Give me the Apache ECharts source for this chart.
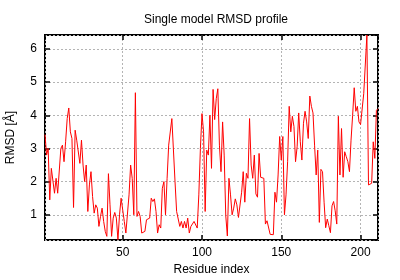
<!DOCTYPE html>
<html><head><meta charset="utf-8">
<script src="https://cdn.jsdelivr.net/npm/echarts@6/dist/echarts.min.js"></script>
<style>html,body{margin:0;padding:0;background:#fff}#c{width:400px;height:280px}</style>
</head><body><div id="c"></div>
<script>
const title = "Single model RMSD profile";
const xName = "Residue index";
const yName = "RMSD [Å]";
const xMin = 1, xMax = 211;
const yMin = 0.24, yMax = 6.42;
const rmsd = [
3.42,2.8,3.0,1.45,2.4,2.35,1.65,2.1,1.65,1.7,
3.0,3.1,2.6,3.2,3.9,4.22,3.5,3.3,1.22,3.55,
3.25,3.3,2.55,3.25,2.5,2.0,2.5,1.1,1.9,2.3,
1.55,1.05,1.3,1.2,0.65,0.95,1.2,0.8,0.5,0.35,
2.24,1.3,0.35,0.9,1.07,0.9,0.25,1.0,1.5,1.5,
0.8,0.45,0.5,1.6,2.5,2.1,1.0,4.68,0.95,1.1,
0.95,0.45,0.5,0.5,0.85,0.8,0.9,1.5,1.4,1.48,
1.1,0.45,0.7,0.6,1.8,2.0,1.0,2.1,3.1,3.15,
3.9,3.85,2.0,1.1,1.1,0.65,0.8,0.6,0.8,0.6,
0.9,0.45,0.65,0.7,0.8,0.85,0.6,1.6,3.0,4.05,
3.5,1.1,2.95,2.8,4.0,2.4,4.78,3.87,4.5,4.8,
3.1,2.3,3.8,2.8,0.97,0.36,2.1,1.6,1.0,1.2,
1.48,1.3,0.92,0.87,1.68,2.3,1.38,2.25,2.1,3.9,
2.5,2.1,2.8,1.63,1.53,2.85,2.13,2.13,2.1,0.72,
0.82,0.77,0.41,0.41,0.4,1.68,1.38,2.2,3.36,2.65,
3.36,1.0,1.6,2.6,4.27,3.5,3.97,3.66,2.6,3.05,
4.07,3.2,2.65,3.76,4.12,3.8,3.3,4.58,4.27,4.07,
3.1,2.2,2.95,0.77,2.37,2.3,1.38,0.61,0.87,0.67,
0.46,1.27,1.4,1.12,0.72,3.97,2.2,3.6,2.13,2.9,
2.75,2.6,2.3,3.25,4.0,4.83,4.12,4.27,3.8,3.72,
3.76,4.65,4.68,6.42,1.9,1.88,1.95,3.2,2.7,4.15,
4.2
];
const data = rmsd.map((v, i) => [xMin + i, v]);
const font = "Liberation Sans";
const grid = {left: 45, right: 22, top: 35, bottom: 40, containLabel: false, outerBoundsMode: 'none', show: true, borderColor: '#000', borderWidth: 2, backgroundColor: 'transparent'};
const split = {show: true, lineStyle: {color: '#b4b4b4', type: [2, 2], width: 1}};
const tick = {show: true, inside: true, length: 5, lineStyle: {color: '#000', width: 1.5}};
const lbl = {color: '#000', fontFamily: font, fontSize: 12, showMinLabel: false, showMaxLabel: false};
const chart = echarts.init(document.getElementById('c'), null, {renderer: 'canvas'});
chart.setOption({
  animation: false,
  title: {text: title, left: 211, textAlign: 'center', top: 9, textStyle: {fontFamily: font, fontSize: 12, fontWeight: 'normal', color: '#000'}},
  grid: grid,
  xAxis: [
    {type: 'value', min: xMin, max: xMax, splitNumber: 5, name: xName, nameLocation: 'middle', nameGap: 24,
     nameTextStyle: {fontFamily: font, fontSize: 12, color: '#000'},
     axisLine: {show: false}, axisTick: tick, axisLabel: Object.assign({margin: 7}, lbl), splitLine: split},
    {type: 'value', position: 'top', min: xMin, max: xMax, splitNumber: 5,
     axisLine: {show: false}, axisTick: tick, axisLabel: {show: false}, splitLine: {show: false}}
  ],
  yAxis: [
    {type: 'value', min: yMin, max: yMax, splitNumber: 5, name: yName, nameLocation: 'middle', nameGap: 28,
     nameTextStyle: {fontFamily: font, fontSize: 12, color: '#000'},
     axisLine: {show: false}, axisTick: tick, axisLabel: Object.assign({margin: 8}, lbl), splitLine: split},
    {type: 'value', position: 'right', min: yMin, max: yMax, splitNumber: 5,
     axisLine: {show: false}, axisTick: tick, axisLabel: {show: false}, splitLine: {show: false}}
  ],
  series: [{type: 'line', data: data, showSymbol: false, symbol: 'none', clip: true,
    lineStyle: {color: '#ff0000', width: 1}, itemStyle: {color: '#ff0000'}}]
});
</script></body></html>
